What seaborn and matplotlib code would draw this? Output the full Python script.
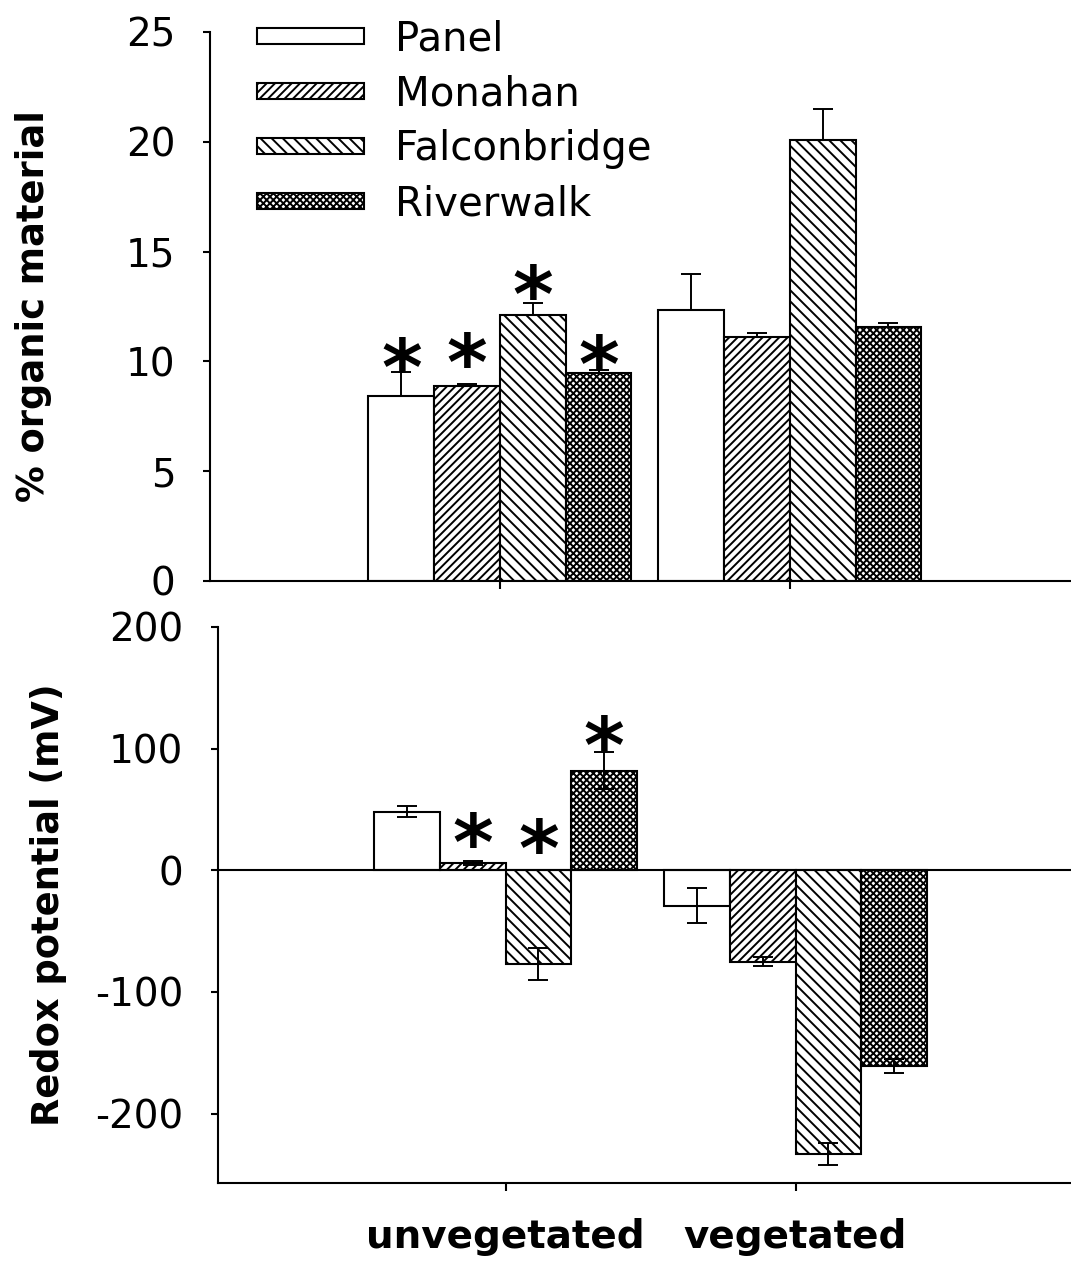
import numpy as np
import pandas as pd
import matplotlib
matplotlib.use("Agg")
import matplotlib.pyplot as plt
import seaborn as sns

# ---------------- data ----------------
conditions = ["unvegetated", "vegetated"]
sites = ["Panel", "Monahan", "Falconbridge", "Riverwalk"]

organic_unveg = [8.4, 8.9, 12.1, 9.45]
organic_veg = [12.35, 11.1, 20.1, 11.55]
organic_err_unveg = [1.1, 0.08, 0.55, 0.15]
organic_err_veg = [1.65, 0.17, 1.4, 0.2]

redox_unveg = [48, 6, -77, 82]
redox_veg = [-29, -75, -233, -161]
redox_err_unveg = [4.5, 2.0, 13.5, 15.0]
redox_err_veg = [14.5, 4.0, 9.0, 6.0]

# significance asterisk heights (unvegetated only; nan = none)
star_organic = [10.2, 10.4, 13.5, 10.3]
star_redox = [np.nan, 31, 26, 111]

hatches = ["", "////", "\\\\\\", "xxxxx"]

# ---------------- style ----------------
sns.set_theme(style="ticks")
plt.rcParams["font.family"] = ["DejaVu Sans"]
plt.rcParams["hatch.linewidth"] = 1.4
plt.rcParams["hatch.color"] = "black"
plt.rcParams["text.color"] = "black"
plt.rcParams["axes.labelcolor"] = "black"
plt.rcParams["xtick.color"] = "black"
plt.rcParams["ytick.color"] = "black"
plt.rcParams["axes.unicode_minus"] = False

fig = plt.figure(figsize=(10.71, 12.64), dpi=100)
ax1 = fig.add_axes([0.1961, 0.5404, 0.8039, 0.4343])
ax2 = fig.add_axes([0.2035, 0.0641, 0.7965, 0.4399])

pal = {s: "white" for s in sites}


def long_df(unveg, veg):
    return pd.DataFrame({
        "condition": np.repeat(conditions, len(sites)),
        "site": sites * 2,
        "value": list(unveg) + list(veg),
    })


def draw(ax, unveg, veg, err_unveg, err_veg, one_sided, stars):
    df = long_df(unveg, veg)
    sns.barplot(data=df, x="condition", y="value", hue="site",
                order=conditions, hue_order=sites, palette=pal,
                edgecolor="black", linewidth=1.5, width=0.907,
                errorbar=None, legend=False, ax=ax)
    for i, (cont, h) in enumerate(zip(ax.containers, hatches)):
        xs = []
        for bar in cont:
            bar.set_hatch(h)
            bar.set_edgecolor("black")
            xs.append(bar.get_x() + bar.get_width() / 2)
        errs = np.array([err_unveg[i], err_veg[i]])
        vals = np.array([unveg[i], veg[i]])
        if one_sided:
            yerr = [np.zeros(2), errs]
        else:
            yerr = [errs, errs]
        ax.errorbar(xs, vals, yerr=yerr, fmt="none", ecolor="black",
                    elinewidth=1.4, capsize=7.5, capthick=1.4, zorder=5)
        s = stars[i]
        if not np.isnan(s):
            fs = 56
            ax.annotate("*", xy=(xs[0], s), xytext=(0, -0.485 * fs),
                        textcoords="offset points", ha="center",
                        va="baseline", fontsize=fs, fontweight="bold",
                        color="black")


draw(ax1, organic_unveg, organic_veg, organic_err_unveg, organic_err_veg,
     True, star_organic)
draw(ax2, redox_unveg, redox_veg, redox_err_unveg, redox_err_veg,
     False, star_redox)

# ---------------- axes cosmetics ----------------
ax1.set_ylim(0, 25)
ax1.set_yticks([0, 5, 10, 15, 20, 25])
ax1.set_xlim(-1.0, 1.97)
ax2.set_ylim(-257, 200)
ax2.set_yticks([-200, -100, 0, 100, 200])
ax2.set_xlim(-0.992, 1.95)
ax2.axhline(0, color="black", lw=1.5, zorder=1)

for ax in (ax1, ax2):
    for sp in ("top", "right"):
        ax.spines[sp].set_visible(False)
    for sp in ("left", "bottom"):
        ax.spines[sp].set_linewidth(1.5)
        ax.spines[sp].set_color("black")
    ax.tick_params(axis="y", labelsize=28, length=5, width=1.5, pad=20,
                   colors="black")
    ax.tick_params(axis="x", length=6, width=1.5, colors="black")
    ax.set_xlabel("")

ax1.set_xticklabels([])
ax2.set_xticks([0, 1])
ax2.set_xticklabels(conditions, fontsize=28, fontweight="bold")
ax2.tick_params(axis="x", pad=19)

ax1.set_ylabel("% organic material", fontsize=26.5, fontweight="bold")
ax1.yaxis.set_label_coords(-0.1835, 0.5)
ax2.set_ylabel("Redox potential (mV)", fontsize=26.5, fontweight="bold")
ax2.yaxis.set_label_coords(-0.177, 0.5)

ax1.legend(ax1.containers, sites, loc="upper left",
           bbox_to_anchor=(0.24, 0.9845), bbox_transform=fig.transFigure,
           frameon=False, fontsize=29, handlelength=2.65,
           handleheight=0.25, handletextpad=0.77, labelspacing=0.37,
           borderpad=0, borderaxespad=0)

fig.savefig("out.png", dpi=100)
